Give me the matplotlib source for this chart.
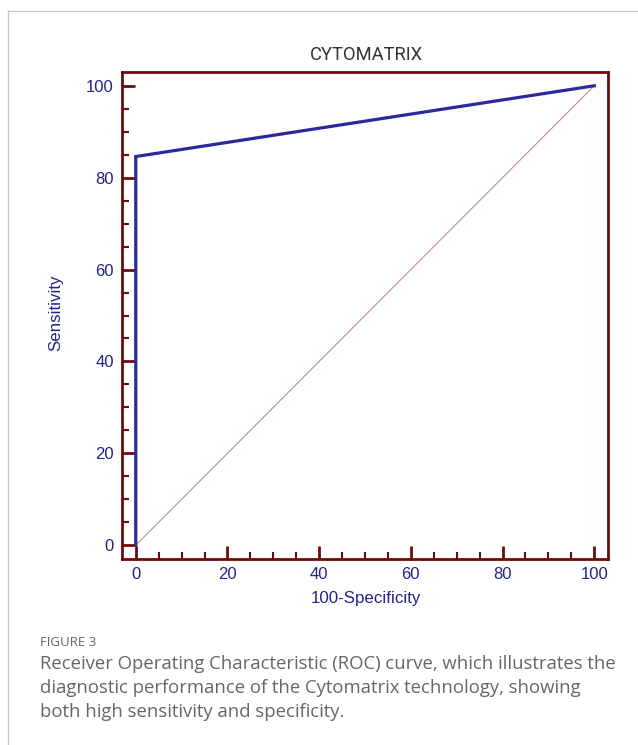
import matplotlib
matplotlib.use('Agg')
import matplotlib.pyplot as plt
from matplotlib.lines import Line2D
from matplotlib.ticker import MultipleLocator

# ROC points (100-specificity, sensitivity)
fpr = [0, 0, 100]
tpr = [0, 84.6, 100]
ref_line = [0, 100]
ticks = [0, 20, 40, 60, 80, 100]

title = 'CYTOMATRIX'
xlabel = '100-Specificity'
ylabel = 'Sensitivity'
fig_label = 'FIGURE 3'
caption = ['Receiver Operating Characteristic (ROC) curve, which illustrates the',
           'diagnostic performance of the Cytomatrix technology, showing',
           'both high sensitivity and specificity.']

maroon = '#6e0a0a'
navy = '#22228a'
W, H = 638, 745

fig = plt.figure(figsize=(W / 100, H / 100), dpi=100)
ax = fig.add_axes([122 / W, 1 - 559 / H, 486 / W, 487 / H])

ax.plot(ref_line, ref_line, color='#c98a8a', lw=0.8, zorder=2)
ax.plot(fpr, tpr, color='#2a2a9c', lw=2.3, solid_joinstyle='miter', zorder=3)

ax.set_xlim(-3, 103)
ax.set_ylim(-3, 103)
ax.set_xticks(ticks)
ax.set_yticks(ticks)
ax.xaxis.set_minor_locator(MultipleLocator(5))
ax.yaxis.set_minor_locator(MultipleLocator(5))
for s in ax.spines.values():
    s.set_color(maroon)
    s.set_linewidth(2)
ax.tick_params(which='major', direction='in', length=9.5, width=2, color=maroon,
               labelcolor=navy, labelsize=12, pad=6)
ax.tick_params(which='minor', direction='in', length=5, width=1.5, color=maroon)
for lab in ax.get_xticklabels() + ax.get_yticklabels():
    lab.set_family('Liberation Sans')

ax.set_xlabel(xlabel, color=navy, fontsize=12.2, family='Liberation Sans')
ax.set_ylabel(ylabel, color=navy, fontsize=12.2, family='Liberation Sans')
ax.xaxis.set_label_coords(0.502, -0.066)
ax.yaxis.set_label_coords(-0.12, 0.505)

fig.text(366 / W, 1 - 55 / H, title, ha='center', va='center', fontsize=13.2,
         color='#333333', family='Roboto')

# frame lines of the figure panel
fig.add_artist(Line2D([8 / W, 1], [1 - 11 / H, 1 - 11 / H], color='#c8c8c8', lw=1))
fig.add_artist(Line2D([8 / W, 8 / W], [0, 1 - 11 / H], color='#c8c8c8', lw=1))

fig.text(40 / W, 1 - 642 / H, fig_label, ha='left', va='center', fontsize=9.5,
         color='#666666', family='Open Sans')
for i, line in enumerate(caption):
    fig.text(40 / W, 1 - (664 + 24 * i) / H, line, ha='left', va='center',
             fontsize=13.3, color='#666666', family='Open Sans')

fig.savefig('out.png', dpi=100)
